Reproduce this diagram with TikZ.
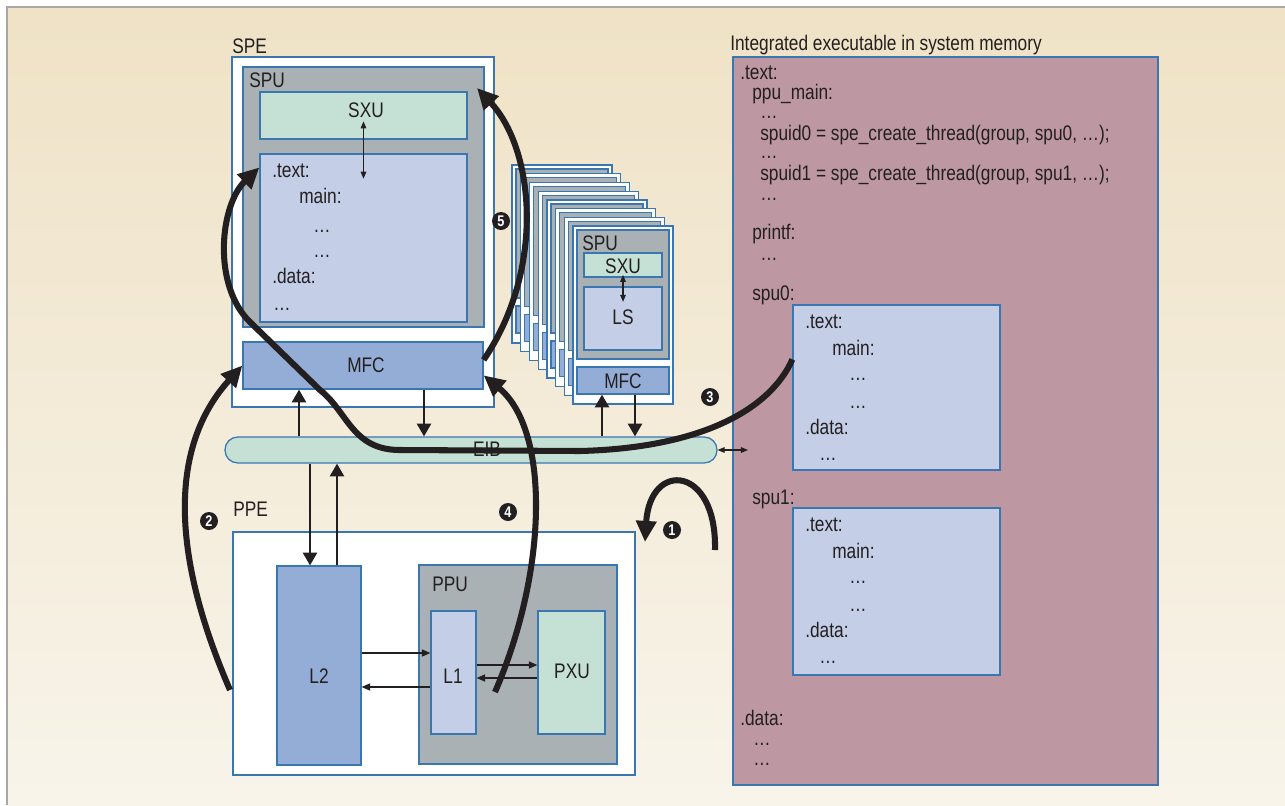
\documentclass[tikz,border=0pt]{standalone}
\usepackage{fontspec}
\setmainfont{Liberation Sans}[FakeStretch=0.82]
\usetikzlibrary{positioning,arrows.meta,fit}

\definecolor{ink}{HTML}{231F20}
\definecolor{edge}{HTML}{3A77B0}
\definecolor{unitgray}{HTML}{A9B1B4}
\definecolor{mint}{HTML}{C5E1D6}
\definecolor{lav}{HTML}{C5CEE7}
\definecolor{mfcblue}{HTML}{94ADD6}
\definecolor{mauve}{HTML}{BD98A3}
\definecolor{bgtop}{HTML}{EFE2C6}
\definecolor{bgbot}{HTML}{F8F4EA}
\definecolor{framegray}{HTML}{A8A8A8}

\begin{document}
\begin{tikzpicture}[
  x=0.025cm, y=-0.025cm,
  font=\fontsize{15}{17}\selectfont, text=ink,
  blk/.style={draw=edge, line width=0.9pt, fill=#1, inner sep=0pt},
  txt/.style={anchor=base west, inner sep=0pt},
  ctxt/.style={anchor=base, inner sep=0pt},
  busarrow/.style={draw=ink, line width=1.4pt, -{Triangle[length=9pt,width=10pt]}},
  thinarrow/.style={draw=ink, line width=0.8pt, -{Triangle[length=6pt,width=5pt]}},
  twoway/.style={draw=ink, line width=0.8pt, {Triangle[length=5pt,width=4pt]}-{Triangle[length=5pt,width=4pt]}},
  flow/.style={draw=ink, line width=4.3pt, line join=round, -{Triangle[length=15pt,width=14pt]}},
  stepno/.style={circle, fill=ink, text=white, inner sep=0pt, minimum size=0.45cm, font=\fontsize{11}{11}\selectfont\bfseries}
]
  \useasboundingbox (0,0) rectangle (1285,805);
  \fill[white] (0,0) rectangle (1285,805);
  \shade[top color=bgtop, bottom color=bgbot] (7,7) rectangle (1285,805);
  \draw[framegray, line width=1.5pt] (7,805) -- (7,7) -- (1285,7);

  % SPE
  \node[txt] (spelbl) at (232,53) {SPE};
  \node[blk=white, fit={(232,57) (494,407)}] (spe) {};
  \node[blk=unitgray, fit={(243,67) (484,327)}] (spu) {};
  \node[txt] (spulbl) at (249,87) {SPU};
  \node[blk=mint, fit={(260,92) (467,139)}] (sxu) {};
  \node[ctxt] (sxulbl) at (366,117) {SXU};
  \node[blk=lav, fit={(260,154) (467,322)}] (ls) {};
  \foreach \tx/\ty/\tline [count=\i] in {272/177/{.text:}, 299/203/{main:}, 313/232/{…},
      313/257/{…}, 272/283/{.data:}, 273/310/{…}}
    \node[txt] (lstxt\i) at (\tx,\ty) {\tline};
  \node[blk=mfcblue, fit={(243,342) (483,389)}] (mfc) {};
  \node[ctxt] (mfclbl) at (366,372) {MFC};
  \draw[twoway] ([yshift=13pt]sxu.south) -- ([yshift=-18pt]ls.north);

  % other SPEs
  \foreach \k in {7,...,1}{
    \begin{scope}[shift={(-8.7*\k,-8.7*\k)}]
      \draw[blk=white] (573,226) rectangle (673,404);
      \draw[blk=unitgray] (577,230) rectangle (669,359);
      \draw[blk=mfcblue] (577,367) rectangle (669,394);
    \end{scope}
  }
  \node[blk=white, fit={(573,226) (673,404)}] (spetwo) {};
  \node[blk=unitgray, fit={(577,230) (669,359)}] (sputwo) {};
  \node[txt] (sputwolbl) at (582,250) {SPU};
  \node[blk=mint, fit={(584,253) (662,277)}] (sxutwo) {};
  \node[ctxt] (sxutwolbl) at (623,273) {SXU};
  \node[blk=lav, fit={(584,287) (662,350)}] (lstwo) {};
  \node[ctxt] (lstwolbl) at (623,324) {LS};
  \node[blk=mfcblue, fit={(577,367) (669,394)}] (mfctwo) {};
  \node[ctxt] (mfctwolbl) at (623,388) {MFC};
  \draw[twoway] ([yshift=2pt]sxutwo.south) -- ([yshift=-11pt]lstwo.north);

  % EIB
  \node[blk=mint, rounded corners=0.32cm, fit={(225,437) (717,463)}] (eib) {};
  \node[ctxt] (eiblbl) at (487,456) {EIB};

  % PPE
  \node[txt] (ppelbl) at (233,516) {PPE};
  \node[blk=white, fit={(233,532) (635,775)}] (ppe) {};
  \node[blk=mfcblue, fit={(277,566) (361,765)}] (ltwo) {};
  \node[ctxt] (ltwolbl) at (319,683) {L2};
  \node[blk=unitgray, fit={(419,565) (617,764)}] (ppu) {};
  \node[txt] (ppulbl) at (432,591) {PPU};
  \node[blk=lav, fit={(431,611) (476,734)}] (lone) {};
  \node[ctxt] (lonelbl) at (453,683) {L1};
  \node[blk=mint, fit={(538,611) (605,734)}] (pxu) {};
  \node[ctxt] (pxulbl) at (572,678) {PXU};

  % system memory
  \node[txt] (memlbl) at (730,50) {Integrated executable in system memory};
  \node[blk=mauve, fit={(733,57) (1158,785)}] (mem) {};
  \foreach \tx/\ty/\tline [count=\i] in {740/79/{.text:}, 752/99/{ppu\_main:}, 760/118/{…},
      760/140/{spuid0 = spe\_create\_thread(group, spu0, …);}, 760/158/{…},
      760/180/{spuid1 = spe\_create\_thread(group, spu1, …);}, 760/200/{…},
      752/239/{printf:}, 760/260/{…}, 752/300/{spu0:}, 752/504/{spu1:},
      740/725/{.data:}, 753/745/{…}, 753/765/{…}}
    \node[txt] (memtxt\i) at (\tx,\ty) {\tline};
  \node[blk=lav, fit={(793,305) (1000,470)}] (szero) {};
  \node[blk=lav, fit={(793,508) (1000,675)}] (sone) {};
  \foreach \dy/\nm in {0/zero,203/one}
    \foreach \tx/\ty/\tline [count=\i] in {805/328/{.text:}, 832/355/{main:}, 849/380/{…},
        849/408/{…}, 805/434/{.data:}, 819/460/{…}}
      \node[txt] (s\nm txt\i) at (\tx,\ty+\dy) {\tline};

  % bus connections
  \coordinate (xa) at (299,0);
  \coordinate (xb) at (424,0);
  \coordinate (xc) at (602,0);
  \coordinate (xd) at (635,0);
  \coordinate (xe) at (310,0);
  \coordinate (xf) at (337,0);
  \coordinate (memport) at (748,0);
  \draw[busarrow] (eib.north -| xa) -- (mfc.south -| xa);
  \draw[busarrow] (mfc.south -| xb) -- (eib.north -| xb);
  \draw[busarrow] (eib.north -| xc) -- (mfctwo.south -| xc);
  \draw[busarrow] (mfctwo.south -| xd) -- (eib.north -| xd);
  \draw[busarrow] (eib.south -| xe) -- (ltwo.north -| xe);
  \draw[busarrow] (ltwo.north -| xf) -- (eib.south -| xf);
  \draw[twoway] (eib.east) -- (eib.east -| memport);

  \coordinate (ya) at (0,653);
  \coordinate (yb) at (0,687);
  \coordinate (yc) at (0,665);
  \coordinate (yd) at (0,678);
  \draw[thinarrow] (ltwo.east |- ya) -- (lone.west |- ya);
  \draw[thinarrow] (lone.west |- yb) -- (ltwo.east |- yb);
  \draw[thinarrow] (lone.east |- yc) -- (pxu.west |- yc);
  \draw[thinarrow] (pxu.west |- yd) -- (lone.east |- yd);

  % numbered steps
  \coordinate (oneA) at (715,550);
  \coordinate (oneB) at (645,542);
  \coordinate (twoA) at (230,690);
  \coordinate (fourA) at (495,692);
  \coordinate (fiveB) at (477,88);
  \draw[flow] (oneA) .. controls (717,465) and (650,460) .. (oneB);
  \draw[flow] (twoA) .. controls (165,540) and (175,440) .. (mfc.west);
  \draw[flow] ([yshift=20pt]szero.west) .. controls (770,410) and (700,448) .. (580,451)
    -- (400,450) .. controls (352,450) and (348,412) .. (320,390)
    -- (250,322) .. controls (212,285) and (220,205) .. ([yshift=-10pt]ls.north west);
  \draw[flow] (fourA) .. controls (548,570) and (550,430) .. ([yshift=-7pt]mfc.east);
  \draw[flow] ([yshift=4pt]mfc.east) .. controls (545,270) and (535,150) .. (fiveB);

  \node[stepno] (n1) at (672,530) {1};
  \node[stepno] (n2) at (209,521) {2};
  \node[stepno] (n3) at (710,397) {3};
  \node[stepno] (n4) at (508,512) {4};
  \node[stepno] (n5) at (501,221) {5};
\end{tikzpicture}
\end{document}
